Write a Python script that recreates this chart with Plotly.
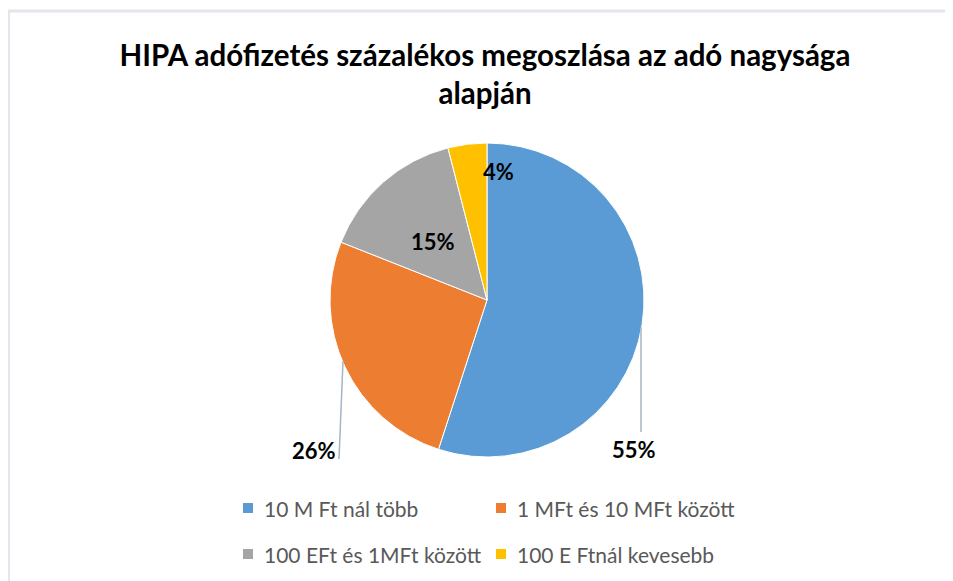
import plotly.graph_objects as go

# ---- data ----
labels = ["10 M Ft nál több", "1 MFt és 10 MFt között",
          "100 EFt és 1MFt között", "100 E Ftnál kevesebb"]
values = [55, 26, 15, 4]
colors = ["#5B9BD5", "#ED7D31", "#A5A5A5", "#FFC000"]
title_lines = ["HIPA adófizetés százalékos megoszlása az adó nagysága", "alapján"]

# ---- layout constants (page pixels; the page body adds an 8px offset) ----
W, H = 953, 581
OFF = 8
FONT = "Lato"
label_pos = [(634, 449), (314, 451), (433, 241), (498, 172)]  # label centres
leaders = [((641, 327), (641, 432)), ((343, 361), (339, 459))]
pie_cx, pie_cy, pie_r = 487, 300, 157
legend_cols = [243, 496]      # left edge of legend squares
legend_rows = [508, 554]      # vertical centre of legend rows
legend_text_gap = 19          # square left edge -> text start


def px(x):
    return (x - OFF) / W


def py(y):
    return 1 - (y - OFF) / H


fig = go.Figure()
fig.add_trace(go.Pie(
    labels=labels, values=values, sort=False, direction="clockwise",
    rotation=0, textinfo="none", hoverinfo="label+percent",
    marker=dict(colors=colors, line=dict(color="white", width=1)),
    domain=dict(x=[px(pie_cx - pie_r - 5), px(pie_cx + pie_r + 5)],
                y=[py(pie_cy + pie_r), py(pie_cy - pie_r)]),
    showlegend=False,
))

annotations = []
for v, (x, y) in zip(values, label_pos):
    annotations.append(dict(
        x=px(x), y=py(y), xref="paper", yref="paper", text=f"<b>{v}%</b>",
        showarrow=False, xanchor="center", yanchor="middle",
        font=dict(family=FONT, size=22, color="#000000"),
    ))

shapes = []
for (x0, y0), (x1, y1) in leaders:
    shapes.append(dict(type="line", xref="paper", yref="paper",
                       x0=px(x0), y0=py(y0), x1=px(x1), y1=py(y1),
                       line=dict(color="#A6B4C6", width=1.5)))

# legend (2 x 2 grid, as in the source chart)
for i, (lab, col) in enumerate(zip(labels, colors)):
    lx = legend_cols[i % 2]
    ly = legend_rows[i // 2]
    shapes.append(dict(type="rect", xref="paper", yref="paper",
                       x0=px(lx), x1=px(lx + 10), y0=py(ly - 5), y1=py(ly + 5),
                       fillcolor=col, line=dict(width=0)))
    annotations.append(dict(
        x=px(lx + legend_text_gap), y=py(ly), xref="paper", yref="paper",
        text=lab, showarrow=False, xanchor="left", yanchor="middle",
        font=dict(family=FONT, size=21, color="#595959"),
    ))

# chart frame
shapes.append(dict(type="line", xref="paper", yref="paper",
                   x0=px(OFF + 0.5), y0=py(10), x1=px(OFF + 0.5), y1=py(H + 20),
                   line=dict(color="#E3E6EC", width=3)))
shapes.append(dict(type="line", xref="paper", yref="paper",
                   x0=px(OFF), y0=py(11), x1=px(W + 20), y1=py(11),
                   line=dict(color="#E3E6EC", width=3)))

fig.update_layout(
    width=W, height=H,
    margin=dict(l=0, r=0, t=0, b=0, autoexpand=False),
    paper_bgcolor="white", plot_bgcolor="white",
    title=dict(text="<b>" + "<br>".join(title_lines) + "</b>",
               x=px(485), xanchor="center", xref="paper",
               y=py(66), yanchor="top", yref="paper",
               font=dict(family=FONT, size=29.5, color="#000000")),
    xaxis=dict(visible=False), yaxis=dict(visible=False),
    showlegend=False,
    annotations=annotations, shapes=shapes,
)

fig.write_html("out.html")
